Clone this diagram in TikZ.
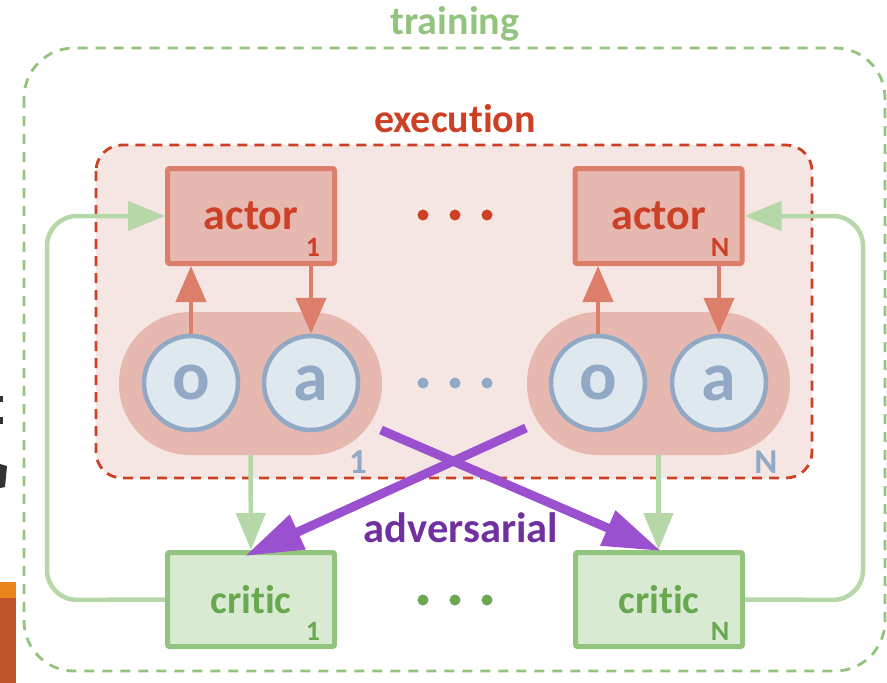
\documentclass[tikz,border=0pt]{standalone}
\usepackage{fontspec}
\setmainfont{Carlito}[Ligatures={CommonOff}]
\usetikzlibrary{arrows.meta,calc}
\definecolor{trgreen}{HTML}{93C47D}
\definecolor{exred}{HTML}{CC4125}
\definecolor{exfill}{HTML}{F6E6E3}
\definecolor{actfill}{HTML}{E6B8AF}
\definecolor{actline}{HTML}{DD7E6B}
\definecolor{cfill}{HTML}{DFE7EF}
\definecolor{cline}{HTML}{91A9C5}
\definecolor{crfill}{HTML}{D9EAD3}
\definecolor{crtext}{HTML}{6AA84F}
\definecolor{glight}{HTML}{B6D7A8}
\definecolor{purp}{HTML}{9B51CF}
\definecolor{purptext}{HTML}{7030A0}
\definecolor{artor}{HTML}{E8841A}
\definecolor{artbr}{HTML}{BF5429}
\tikzset{
  bigtxt/.style={font=\bfseries\fontsize{40}{40}\selectfont},
  advtxt/.style={font=\bfseries\fontsize{42.5}{42.5}\selectfont},
  acttxt/.style={font=\bfseries\fontsize{44}{44}\selectfont},
  subtxt/.style={font=\bfseries\fontsize{28}{28}\selectfont},
  pilltxt/.style={font=\bfseries\fontsize{35}{35}\selectfont},
  actorbox/.style={draw=actline, fill=actfill, line width=5pt, minimum width=167pt, minimum height=95pt, inner sep=0pt, text=exred, acttxt, rounded corners=2pt},
  criticbox/.style={draw=trgreen, fill=crfill, line width=5pt, minimum width=167pt, minimum height=94pt, inner sep=0pt, text=crtext, bigtxt, rounded corners=2pt},
  pill/.style={fill=actfill, minimum width=263pt, minimum height=143pt, rounded corners=71pt, inner sep=0pt},
  obs/.style={circle, draw=cline, fill=cfill, line width=4.5pt, minimum size=94pt, inner sep=0pt, text=cline, font=\bfseries\fontsize{70}{70}\selectfont},
  redarrow/.style={draw=actline, line width=4.5pt, -{Triangle[length=36pt,width=30pt]}},
  greenarrow/.style={draw=glight, line width=4.5pt, -{Triangle[length=37pt,width=29pt]}},
  greenloop/.style={draw=glight, line width=4.5pt, rounded corners=30pt, -{Triangle[length=37pt,width=29pt]}},
  purparrow/.style={draw=purp, line width=9pt, -{Triangle[length=58pt,width=36pt]}},
  dot/.style={circle, inner sep=0pt, minimum size=11pt},
}
\begin{document}
\begin{tikzpicture}[x=1pt,y=-1pt]
\useasboundingbox (0,0) rectangle (887,683);
% left-edge fragments
\fill[artor] (0,582) rectangle (16,598);
\fill[artbr] (0,598) rectangle (16,683);
\fill[black!80] (0,396) rectangle (2.5,402);
\fill[black!80] (0,417) rectangle (2.5,424);
\fill[black!80] (0,464) -- (7,466) -- (5,487) -- (0,488) -- cycle;
% training container
\draw[trgreen, line width=2.8pt, dash pattern=on 10pt off 8pt, rounded corners=50pt] (24,48) rectangle (885,671);
\node[bigtxt, text=trgreen] (trlabel) at (455,24) {training};
% execution container
\draw[exred, fill=exfill, line width=2.8pt, dash pattern=on 10pt off 7pt, rounded corners=26pt] (96,145) rectangle (812,478);
\node[bigtxt, text=exred] (exlabel) at (455,119) {execution};
% actors
\node[actorbox] (act1) at (251,216) {actor};
\node[subtxt, text=exred] (act1s) at (313,247) {1};
\node[actorbox] (actN) at (658.5,216) {actor};
\node[subtxt, text=exred] (actNs) at (720,247) {N};
% dots
\foreach \xx [count=\i] in {423,455,487} {
  \node[dot, fill=exred] (rd\i) at (\xx,215) {};
  \node[dot, fill=cline] (bd\i) at (\xx,383) {};
  \node[dot, fill=crtext] (gd\i) at (\xx,600) {};
}
% pills
\node[pill] (pill1) at (250.5,383.5) {};
\node[pill] (pillN) at (658.5,383.5) {};
\node[obs] (o1) at (191,383) {o};
\node[obs] (a1) at (311,383) {a};
\node[obs] (oN) at (598,383) {o};
\node[obs] (aN) at (719,383) {a};
\node[pilltxt, text=cline] (p1s) at (358,462) {1};
\node[pilltxt, text=cline] (pNs) at (766,462) {N};
% actor arrows
\draw[redarrow] (o1.north) -- (o1.north |- act1.south);
\draw[redarrow] (a1.north |- act1.south) -- (a1.north);
\draw[redarrow] (oN.north) -- (oN.north |- actN.south);
\draw[redarrow] (aN.north |- actN.south) -- (aN.north);
% critics
\node[criticbox] (cr1) at (251,599.5) {critic};
\node[subtxt, text=crtext] (cr1s) at (313,631) {1};
\node[criticbox] (crN) at (659,599.5) {critic};
\node[subtxt, text=crtext] (crNs) at (720,631) {N};
% green arrows
\draw[greenarrow] (pill1.south) -- (cr1.north);
\draw[greenarrow] (pillN.south) -- (pillN.south |- crN.north);
% loops
\coordinate (l1) at (47,600);
\coordinate (lN) at (863,600);
\draw[greenloop] (cr1.west) -- (l1) |- (act1.west);
\draw[greenloop] (crN.east) -- (lN) |- (actN.east);
% adversarial
\coordinate (adv1s) at (381,430);
\coordinate (adv1e) at (245,556);
\coordinate (advNs) at (526,428);
\coordinate (advNe) at (661,551);
\draw[purparrow] (adv1s) -- (advNe);
\draw[purparrow] (advNs) -- (adv1e);
\node[advtxt, text=purptext] (advlabel) at (461,528) {adversarial};
\end{tikzpicture}
\end{document}
